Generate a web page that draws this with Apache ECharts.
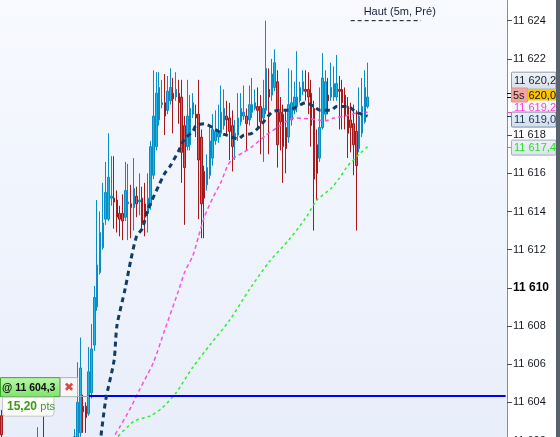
<!DOCTYPE html>
<html><head><meta charset="utf-8">
<script src="https://cdn.jsdelivr.net/npm/echarts@6/dist/echarts.min.js"></script>
<style>html,body{margin:0;padding:0;background:#fff}#c{width:560px;height:437px}</style>
</head><body><div id="c"></div>
<script>
// ---------- data ----------
const slotCount = 180;
const preSlots = [0, 13, 15, 26];
const mainStart = 27;
const candleOpen = [11603.3,11601.0,11601.5,11601.2,
 11602.0,11602.4,11603.8,11603.8,11603.4,11604.5,11607.0,11609.0,11610.8,11612.1,
 11613.6,11613.6,11614.7,11614.7,11614.6,11613.9,11613.9,11613.7,11614.4,11614.4,
 11614.2,11614.8,11614.5,11614.7,11614.4,11613.9,11614.3,11615.9,11617.4,11618.8,
 11619.6,11619.7,11619.3,11619.8,11620.2,11620.0,11620.2,11620.0,11618.5,11617.4,
 11617.5,11619.1,11619.1,11619.1,11617.9,11616.1,11615.4,11615.9,11616.8,11617.7,
 11617.9,11618.1,11618.5,11619.0,11618.9,11618.5,11617.8,11618.0,11618.7,11619.0,
 11619.0,11618.8,11619.2,11619.4,11619.5,11619.5,11618.9,11619.3,11620.4,11620.1,
 11620.5,11620.8,11619.2,11619.1,11618.4,11617.9,11618.8,11619.3,11619.5,11619.8,
 11620.3,11620.4,11620.4,11620.2,11619.4,11617.5,11616.8,11618.4,11619.1,11620.1,
 11620.0,11620.0,11620.0,11620.4,11620.4,11620.1,11619.5,11618.8,11618.6,11618.2,
 11617.3,11618.1,11618.7,11619.5];
const candleClose = [11602.3,11602.0,11600.8,11602.2,
 11604.0,11605.8,11603.5,11603.2,11605.6,11606.8,11609.5,11611.2,11612.9,11613.4,
 11615.0,11615.8,11614.8,11614.5,11613.7,11613.6,11613.5,11615.1,11614.5,11614.2,
 11615.2,11614.4,11614.6,11613.4,11613.7,11614.7,11617.4,11619.0,11620.2,11620.5,
 11619.7,11619.0,11620.3,11620.5,11619.9,11620.4,11619.7,11617.1,11616.3,11619.0,
 11619.4,11619.7,11618.9,11616.7,11614.4,11614.7,11616.3,11617.7,11618.3,11618.2,
 11618.1,11619.2,11619.4,11618.8,11618.2,11617.4,11618.1,11618.9,11619.4,11619.2,
 11618.6,11619.6,11619.6,11619.7,11619.3,11618.7,11619.4,11621.5,11620.0,11621.2,
 11621.8,11617.5,11618.7,11617.4,11617.3,11619.6,11619.7,11620.0,11620.0,11620.5,
 11620.8,11620.3,11620.0,11618.5,11615.7,11616.0,11618.4,11621.0,11620.8,11619.8,
 11620.5,11620.7,11620.7,11620.3,11619.7,11619.0,11618.1,11618.4,11617.5,11616.4,
 11619.0,11619.5,11620.5,11620.0];
const candleLow = [11601.5,11600.5,11600.2,11600.8,
 11601.8,11602.2,11602.4,11602.4,11603.3,11604.2,11606.7,11608.8,11610.7,11612.0,
 11613.3,11613.5,11614.3,11613.1,11612.9,11612.7,11612.5,11613.5,11612.5,11612.6,
 11613.0,11613.7,11613.8,11613.1,11612.7,11612.9,11614.1,11615.7,11617.2,11618.5,
 11619.4,11618.0,11619.1,11619.6,11618.1,11619.8,11618.6,11615.5,11613.3,11617.2,
 11617.2,11618.9,11617.9,11613.6,11612.6,11612.6,11615.1,11615.7,11616.4,11617.5,
 11617.6,11617.9,11618.3,11618.0,11616.7,11616.1,11616.7,11617.7,11618.5,11618.8,
 11617.2,11618.5,11618.9,11619.3,11618.4,11617.0,11616.6,11619.1,11617.0,11619.8,
 11620.3,11616.3,11617.2,11615.5,11616.0,11617.6,11618.5,11619.1,11619.2,11619.7,
 11620.1,11619.8,11619.1,11617.4,11613.0,11614.6,11616.6,11618.3,11618.8,11619.1,
 11619.8,11619.8,11619.8,11618.3,11618.3,11618.3,11616.8,11617.1,11615.9,11613.0,
 11617.1,11617.9,11618.6,11619.4];
const candleHigh = [11603.6,11602.7,11604.0,11602.6,
 11606.1,11607.4,11604.4,11604.0,11606.9,11608.1,11610.1,11614.6,11614.0,11615.5,
 11616.6,11618.1,11616.9,11616.9,11615.1,11614.3,11614.9,11616.6,11616.5,11615.4,
 11616.8,11615.3,11616.0,11615.3,11615.5,11616.0,11617.7,11621.4,11621.3,11621.3,
 11620.9,11621.2,11621.1,11621.5,11621.0,11621.3,11620.9,11620.9,11619.0,11620.9,
 11620.1,11620.2,11619.6,11620.9,11618.3,11616.4,11617.0,11618.5,11619.1,11619.3,
 11619.6,11620.6,11620.4,11619.8,11619.7,11619.3,11618.8,11620.2,11620.2,11620.6,
 11619.4,11620.6,11621.0,11620.4,11620.5,11620.1,11620.9,11624.0,11621.5,11622.0,
 11622.5,11621.4,11620.0,11619.6,11619.3,11621.5,11621.4,11620.8,11622.4,11620.8,
 11621.4,11621.4,11621.3,11620.9,11619.8,11618.3,11620.5,11622.3,11621.4,11621.0,
 11621.8,11621.6,11622.2,11621.1,11620.9,11620.5,11620.0,11619.7,11619.6,11619.3,
 11620.5,11621.0,11621.4,11621.8];

const navySlot = [35,37,40,41,44,46,48,50,52,56,58,60,63,65,68,69,72,75,78,80,84,86,89,92,96,99,102,105,108,111,113,117,119,123,126,130];
const navyVal  = [11601.8,11604.1,11606.2,11608.0,11610.0,11611.5,11612.7,11613.1,11614.1,11615.4,11616.0,11616.4,11617.2,11617.8,11618.2,11618.5,11618.6,11618.4,11618.1,11618.0,11617.8,11618.0,11618.1,11618.5,11619.2,11619.3,11619.3,11619.5,11619.7,11619.5,11619.3,11619.3,11619.5,11619.5,11619.2,11619.0];
const pinkSlot = [39,42,46,49,54,58,63,65,68,70,72,75,78,80,82,86,89,94,99,104,110,115,118,122,126,130];
const pinkVal  = [11602.0,11602.7,11603.75,11604.65,11606.1,11607.8,11609.9,11610.8,11611.7,11612.7,11613.7,11614.7,11615.55,11616.3,11616.75,11617.1,11617.4,11618.0,11618.5,11618.9,11618.85,11618.75,11618.9,11619.0,11619.15,11619.2];
const greenSlot = [40,47,53,57,62,68,74,81,88,95,102,108,112,117,120,123,127,130];
const greenVal  = [11602.0,11603.0,11603.3,11603.7,11604.5,11605.85,11607.0,11608.3,11609.9,11611.35,11612.5,11613.65,11614.6,11615.2,11615.75,11616.4,11617.0,11617.4];

const orderLevel = 11604.35;
const orderText = '@ 11 604,3';
const orderPts = '15,20';
const highLevel = 11624.0;
const highSlots = [124, 149];
const highText = 'Haut (5m, Pré)';
const markValues = [11620.2, 11620.0, 11619.2, 11619.0, 11617.4];
const markTexts = ['11 620,2', '620,0', '11 619,2', '11 619,0', '11 617,4'];
const yMin = 11602, yMax = 11626, yStep = 2;

// ---------- build ----------
const categories = Array.from({length: slotCount}, (_, i) => String(i));
const candleSlot = preSlots.concat(Array.from({length: candleOpen.length - preSlots.length}, (_, k) => mainStart + k));
const candleData = candleSlot.map((s, k) => [s, candleOpen[k], candleClose[k], candleLow[k], candleHigh[k]]);
const pairs = (a, b) => a.map((s, k) => [s, b[k]]);
const fmt = v => Math.floor(v / 1000) + ' ' + String(Math.round(v % 1000)).padStart(3, '0');
const FONT = '"Liberation Sans", Arial, sans-serif';

const chart = echarts.init(document.getElementById('c'), null, {renderer: 'canvas'});
chart.setOption({
  animation: false,
  backgroundColor: '#ffffff',
  grid: {left: 0, right: 53, top: -17.5, bottom: -3.5, show: true, borderWidth: 0,
    containLabel: false, outerBoundsMode: 'none',
    backgroundColor: new echarts.graphic.LinearGradient(0, 0, 0, 1, [{offset: 0, color: '#f8faff'}, {offset: 1, color: '#e8eefa'}])},
  xAxis: {type: 'category', data: categories, boundaryGap: true, show: false},
  yAxis: {type: 'value', position: 'right', min: yMin, max: yMax, interval: yStep, scale: true,
    splitLine: {show: false},
    axisLine: {show: true, lineStyle: {color: '#8190a3', width: 1}},
    axisTick: {show: true, length: 5, lineStyle: {color: '#4a4f57'}},
    axisLabel: {margin: 6, fontFamily: FONT, fontSize: 11, color: '#15191f', hideOverlap: false,
      formatter: v => v === 11610 ? '{b|' + fmt(v) + '}' : fmt(v),
      rich: {b: {fontWeight: 'bold', fontSize: 12, fontFamily: FONT, color: '#000'}}}
  },
  series: [
    {type: 'candlestick', data: candleData, dimensions: ['slot', 'open', 'close', 'lowest', 'highest'],
      encode: {x: 0, y: [1, 2, 3, 4]}, barWidth: 2,
      itemStyle: {color: '#1eb4e6', color0: '#d9534f', borderColor: '#0b8cc4', borderColor0: '#a3191c', borderWidth: 1},
      z: 3,
      markLine: {silent: true, symbol: 'none', label: {show: false}, animation: false,
        lineStyle: {color: '#0000f0', width: 2, type: 'solid'},
        data: [[{coord: [31, orderLevel]}, {coord: [slotCount - 1, orderLevel]}]]}
    },
    {type: 'line', data: pairs(pinkSlot, pinkVal), symbol: 'none', smooth: 0.25, z: 4,
      lineStyle: {color: '#ff4fe0', width: 1.5, type: [4, 3]}},
    {type: 'line', data: pairs(greenSlot, greenVal), symbol: 'none', smooth: 0.25, z: 4,
      lineStyle: {color: '#2ef02e', width: 1.5, type: [3, 3]}},
    {type: 'line', data: pairs(navySlot, navyVal), symbol: 'none', smooth: 0.25, z: 5,
      lineStyle: {color: '#123b66', width: 3, type: [5, 4]}},
    {type: 'line', data: pairs(highSlots, [highLevel, highLevel]), symbol: 'none', z: 5,
      lineStyle: {color: '#111', width: 1, type: [4, 3]}}
  ]
});

const py = v => chart.convertToPixel({yAxisIndex: 0}, v);
const px = i => chart.convertToPixel({xAxisIndex: 0}, i);
const g = [];
const T = (x, y, text, fill, size, weight, extra) => Object.assign({type: 'text', z: 120,
  style: {x: x, y: y, text: text, fill: fill, font: (weight || 'normal') + ' ' + size + 'px ' + FONT, verticalAlign: 'middle'}}, extra || {});

// right border
g.push({type: 'rect', z: 130, shape: {x: 556, y: 0, width: 4, height: 437}, style: {fill: '#59626c'}});
// axis value ticks
const tickCol = ['#000', '#000', '#ff44dd', '#123a63', '#22dd22'];
markValues.forEach((v, k) => {
  const y = Math.round(py(v)) + 0.5;
  g.push({type: 'line', z: 110, shape: {x1: 507, y1: y, x2: 512, y2: y}, style: {stroke: tickCol[k], lineWidth: 1}});
});
// pink label (partly covered)
let yc = py(markValues[2]) - 5;
g.push({type: 'rect', z: 111, shape: {x: 512, y: yc - 6, width: 44, height: 12}, style: {fill: '#f4f6fb'}});
g.push(T(514, yc + 0.5, markTexts[2], '#ff3fd8', 11, 'normal', {z: 112}));
// box 11620.2
yc = py(markValues[0]) - 12.5;
g.push({type: 'rect', z: 113, shape: {x: 511.5, y: yc - 8.5, width: 44.5, height: 17, r: 1},
  style: {fill: new echarts.graphic.LinearGradient(0, 0, 0, 1, [{offset: 0, color: '#f1f4f8'}, {offset: 1, color: '#d6dee8'}]), stroke: '#8c9cb0', lineWidth: 1}});
g.push(T(514, yc + 0.5, markTexts[0], '#18202b', 11, 'normal', {z: 114}));
// 5s + last price
yc = py(markValues[1]) - 2;
g.push({type: 'rect', z: 115, shape: {x: 511.5, y: yc - 7, width: 16, height: 14}, style: {fill: '#f4a3a3', stroke: '#e49090', lineWidth: 1}});
g.push(T(513, yc + 0.5, '5s', '#1a1a1a', 11, 'normal', {z: 116}));
g.push({type: 'rect', z: 115, shape: {x: 527.5, y: yc - 5.5, width: 28.5, height: 11}, style: {fill: '#ffc400'}});
g.push(T(528.5, yc + 0.5, markTexts[1], '#111', 11, 'normal', {z: 116}));
// navy box
yc = py(markValues[3]) + 3.5;
g.push({type: 'rect', z: 113, shape: {x: 511.5, y: yc - 7.5, width: 44.5, height: 15, r: 1},
  style: {fill: new echarts.graphic.LinearGradient(0, 0, 0, 1, [{offset: 0, color: '#e9eff6'}, {offset: 1, color: '#d3dde9'}]), stroke: '#7b8ea5', lineWidth: 1}});
g.push(T(514, yc + 0.5, markTexts[3], '#163a62', 11, 'normal', {z: 114}));
// green box
yc = py(markValues[4]) + 1;
g.push({type: 'rect', z: 113, shape: {x: 511.5, y: yc - 7.5, width: 44.5, height: 15, r: 1},
  style: {fill: new echarts.graphic.LinearGradient(0, 0, 0, 1, [{offset: 0, color: '#eef2f6'}, {offset: 1, color: '#dbe3ec'}]), stroke: '#9eacbb', lineWidth: 1}});
g.push(T(514, yc + 0.5, markTexts[4], '#27e027', 11, 'normal', {z: 114}));

// order label on the left
const ly = py(orderLevel);
g.push({type: 'line', z: 110, shape: {x1: 78, y1: Math.round(ly) + 0.5, x2: 89, y2: Math.round(ly) + 0.5}, style: {stroke: '#9aa3ad', lineWidth: 1}});
g.push({type: 'rect', z: 111, shape: {x: 0.5, y: ly - 18, width: 59.5, height: 19},
  style: {fill: new echarts.graphic.LinearGradient(0, 0, 0, 1, [{offset: 0, color: '#b9f8a9'}, {offset: 1, color: '#7de46b'}]), stroke: '#3ba52b', lineWidth: 1}});
g.push(T(2, ly - 8, orderText, '#0d0d0d', 10.5, 'bold', {z: 112}));
g.push({type: 'rect', z: 111, shape: {x: 60.5, y: ly - 18, width: 17, height: 19}, style: {fill: '#f6f6f6', stroke: '#b2b2b2', lineWidth: 1}});
g.push({type: 'text', z: 112, style: {x: 69, y: ly - 8, text: '✖', fill: '#e04545', font: '12px "DejaVu Sans", sans-serif', align: 'center', verticalAlign: 'middle'}});
g.push({type: 'rect', z: 111, shape: {x: 2.5, y: ly + 1.5, width: 51.5, height: 19, r: [0, 0, 3, 3]}, style: {fill: '#fbfbf8', stroke: '#c6c6c6', lineWidth: 1}});
g.push({type: 'text', z: 112, style: {x: 7, y: ly + 11.5, verticalAlign: 'middle',
  text: '{a|' + orderPts + '} {b|pts}',
  rich: {a: {font: 'bold 12px ' + FONT, fill: '#3c9a1a'}, b: {font: '11px ' + FONT, fill: '#4c8f48'}}}});

// high level text
g.push(T(px(highSlots[0]) + 13, py(highLevel) - 8.5, highText, '#1a2236', 11, 'normal', {z: 112}));

chart.setOption({graphic: {elements: g}});
</script></body></html>
